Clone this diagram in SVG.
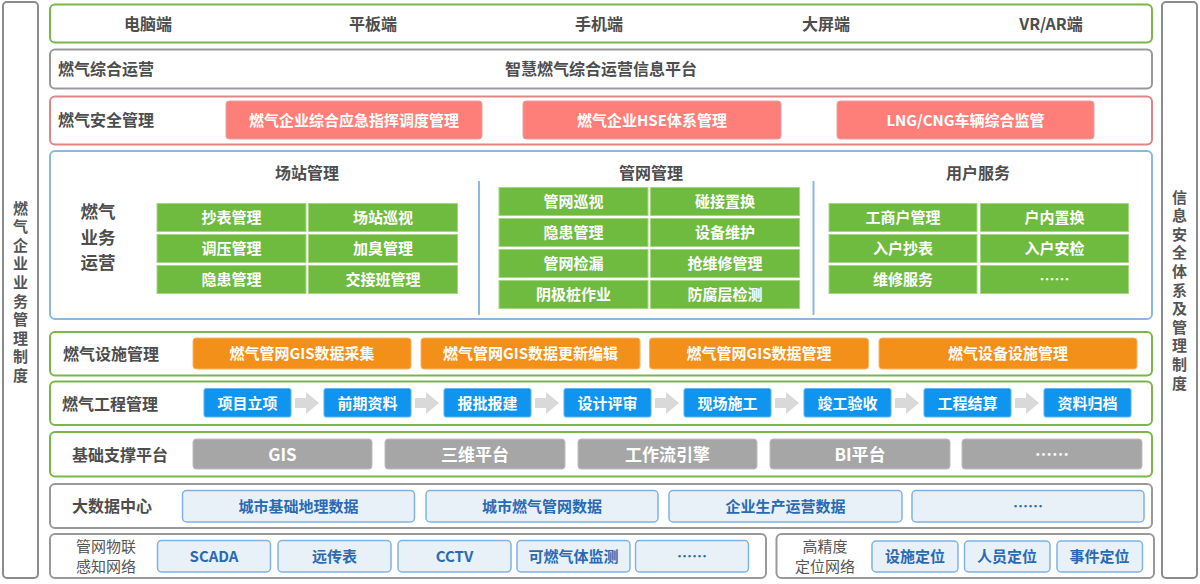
<svg xmlns="http://www.w3.org/2000/svg" width="1200" height="584" viewBox="0 0 1200 584">
<defs>
<style>
text{font-family:"Noto Sans CJK SC","Liberation Sans",sans-serif;font-weight:bold;}
.lbl{font-size:16px;fill:#4d4d4d;}
.ttl{font-size:16px;fill:#4d4d4d;text-anchor:middle;}
.vt{font-size:15px;fill:#555;writing-mode:vertical-rl;text-orientation:upright;letter-spacing:3.6px;}
.bt{font-size:15px;fill:#fff;text-anchor:middle;}
.bt2{font-size:15px;fill:#2a6ab3;text-anchor:middle;}
.sm{font-size:15px;fill:#555;text-anchor:middle;font-weight:normal;}
.fr-g{fill:#fff;stroke:#7ab648;stroke-width:2;}
.fr-k{fill:#fff;stroke:#999;stroke-width:2;}
.fr-r{fill:#fff;stroke:#e08585;stroke-width:2;}
.fr-b{fill:#fff;stroke:#8ab7e3;stroke-width:2;}
.side{fill:#fff;stroke:#8c8c8c;stroke-width:2;}
.red{fill:#fe7f79;stroke:#e8a0a0;stroke-width:1;}
.grn{fill:#6fbb40;stroke:#a5d585;stroke-width:1;}
.org{fill:#f39019;stroke:#f8b56a;stroke-width:1;}
.blu{fill:#0f95ef;stroke:#5cb5f2;stroke-width:1;}
.gry{fill:#a6a6a6;stroke:#bdbdbd;stroke-width:1;}
.lb{fill:#e8f0f8;stroke:#7fb3e6;stroke-width:1.5;}
.arr{fill:#d9d9d9;}
.div{stroke:#8ab7e3;stroke-width:2;}
</style>
</defs>

<g id="side-left">
<rect class="side" x="3" y="2" width="35" height="576" rx="4"/>
<text class="vt" x="20.5" y="200.5">燃气企业业务管理制度</text>
</g>

<g id="side-right">
<rect class="side" x="1162" y="2" width="35" height="576" rx="4"/>
<text class="vt" x="1179.5" y="189.5">信息安全体系及管理制度</text>
</g>

<g id="row-terminals">
<rect class="fr-g" x="50" y="4.5" width="1102" height="38" rx="5"/>
<text class="ttl" x="148" y="30">电脑端</text>
<text class="ttl" x="373" y="30">平板端</text>
<text class="ttl" x="599" y="30">手机端</text>
<text class="ttl" x="826" y="30">大屏端</text>
<text class="ttl" x="1051" y="30">VR/AR端</text>
</g>

<g id="row-ops">
<rect class="fr-k" x="50" y="49.5" width="1102" height="39" rx="5"/>
<text class="lbl" x="58" y="75">燃气综合运营</text>
<text class="ttl" x="601" y="75">智慧燃气综合运营信息平台</text>
</g>

<g id="row-safety">
<rect class="fr-r" x="50" y="96.5" width="1102" height="48" rx="5"/>
<text class="lbl" x="58" y="126">燃气安全管理</text>
<rect class="red" x="226" y="101" width="256" height="38" rx="3"/>
<text class="bt" x="354" y="126">燃气企业综合应急指挥调度管理</text>
<rect class="red" x="523" y="101" width="258" height="38" rx="3"/>
<text class="bt" x="652" y="126">燃气企业HSE体系管理</text>
<rect class="red" x="837" y="101" width="257" height="38" rx="3"/>
<text class="bt" x="965.5" y="126">LNG/CNG车辆综合监管</text>
</g>

<g id="row-business">
<rect class="fr-b" x="50" y="151" width="1102" height="168" rx="5"/>
<text style="font-size:17.5px;fill:#4d4d4d;text-anchor:middle"><tspan x="98" y="218">燃气</tspan><tspan x="98" y="243.5">业务</tspan><tspan x="98" y="269">运营</tspan></text>
<line class="div" x1="479" y1="181" x2="479" y2="315"/>
<line class="div" x1="813.5" y1="181" x2="813.5" y2="315"/>
<text class="ttl" x="307" y="179">场站管理</text>
<text class="ttl" x="651" y="179">管网管理</text>
<text class="ttl" x="978" y="179">用户服务</text>
</g>

<g id="station">
<rect class="grn" x="157" y="203.5" width="149" height="28"/><text class="bt" x="231.5" y="223">抄表管理</text>
<rect class="grn" x="308.5" y="203.5" width="149" height="28"/><text class="bt" x="383" y="223">场站巡视</text>
<rect class="grn" x="157" y="234.5" width="149" height="28"/><text class="bt" x="231.5" y="254">调压管理</text>
<rect class="grn" x="308.5" y="234.5" width="149" height="28"/><text class="bt" x="383" y="254">加臭管理</text>
<rect class="grn" x="157" y="265.5" width="149" height="28"/><text class="bt" x="231.5" y="285">隐患管理</text>
<rect class="grn" x="308.5" y="265.5" width="149" height="28"/><text class="bt" x="383" y="285">交接班管理</text>
</g>

<g id="pipeline">
<rect class="grn" x="499" y="187.5" width="149" height="28"/><text class="bt" x="573.5" y="207">管网巡视</text>
<rect class="grn" x="650.5" y="187.5" width="149" height="28"/><text class="bt" x="725" y="207">碰接置换</text>
<rect class="grn" x="499" y="218.5" width="149" height="28"/><text class="bt" x="573.5" y="238">隐患管理</text>
<rect class="grn" x="650.5" y="218.5" width="149" height="28"/><text class="bt" x="725" y="238">设备维护</text>
<rect class="grn" x="499" y="249.5" width="149" height="28"/><text class="bt" x="573.5" y="269">管网检漏</text>
<rect class="grn" x="650.5" y="249.5" width="149" height="28"/><text class="bt" x="725" y="269">抢维修管理</text>
<rect class="grn" x="499" y="280.5" width="149" height="28"/><text class="bt" x="573.5" y="300">阴极桩作业</text>
<rect class="grn" x="650.5" y="280.5" width="149" height="28"/><text class="bt" x="725" y="300">防腐层检测</text>
</g>

<g id="users">
<rect class="grn" x="829" y="203.5" width="148" height="28"/><text class="bt" x="903" y="223">工商户管理</text>
<rect class="grn" x="980.5" y="203.5" width="148" height="28"/><text class="bt" x="1054.5" y="223">户内置换</text>
<rect class="grn" x="829" y="234.5" width="148" height="28"/><text class="bt" x="903" y="254">入户抄表</text>
<rect class="grn" x="980.5" y="234.5" width="148" height="28"/><text class="bt" x="1054.5" y="254">入户安检</text>
<rect class="grn" x="829" y="265.5" width="148" height="28"/><text class="bt" x="903" y="285">维修服务</text>
<rect class="grn" x="980.5" y="265.5" width="148" height="28"/><text class="bt" x="1054.5" y="285">……</text>
</g>

<g id="row-facility">
<rect class="fr-g" x="50" y="332" width="1102" height="43.5" rx="5"/>
<text class="lbl" x="63" y="360">燃气设施管理</text>
<rect class="org" x="193" y="338" width="218" height="31" rx="3"/><text class="bt" x="302" y="359">燃气管网GIS数据采集</text>
<rect class="org" x="421" y="338" width="219" height="31" rx="3"/><text class="bt" x="530.5" y="359">燃气管网GIS数据更新编辑</text>
<rect class="org" x="649.5" y="338" width="219" height="31" rx="3"/><text class="bt" x="759" y="359">燃气管网GIS数据管理</text>
<rect class="org" x="879" y="338" width="258" height="31" rx="3"/><text class="bt" x="1008" y="359">燃气设备设施管理</text>
</g>

<g id="row-engineering">
<rect class="fr-g" x="50" y="381.5" width="1102" height="43.5" rx="5"/>
<text class="lbl" x="62" y="410">燃气工程管理</text>
<rect class="blu" x="204" y="388.5" width="87" height="28.5" rx="2"/><text class="bt" x="247.5" y="409">项目立项</text>
<rect class="blu" x="324" y="388.5" width="87" height="28.5" rx="2"/><text class="bt" x="367.5" y="409">前期资料</text>
<rect class="blu" x="444" y="388.5" width="87" height="28.5" rx="2"/><text class="bt" x="487.5" y="409">报批报建</text>
<rect class="blu" x="564" y="388.5" width="87" height="28.5" rx="2"/><text class="bt" x="607.5" y="409">设计评审</text>
<rect class="blu" x="684" y="388.5" width="87" height="28.5" rx="2"/><text class="bt" x="727.5" y="409">现场施工</text>
<rect class="blu" x="804" y="388.5" width="87" height="28.5" rx="2"/><text class="bt" x="847.5" y="409">竣工验收</text>
<rect class="blu" x="924" y="388.5" width="87" height="28.5" rx="2"/><text class="bt" x="967.5" y="409">工程结算</text>
<rect class="blu" x="1044" y="388.5" width="87" height="28.5" rx="2"/><text class="bt" x="1087.5" y="409">资料归档</text>
</g>

<g id="connectors">
<path class="arr" d="M295 398h11v-6l13 11l-13 11v-6h-11z"/>
<path class="arr" d="M415 398h11v-6l13 11l-13 11v-6h-11z"/>
<path class="arr" d="M535 398h11v-6l13 11l-13 11v-6h-11z"/>
<path class="arr" d="M655 398h11v-6l13 11l-13 11v-6h-11z"/>
<path class="arr" d="M775 398h11v-6l13 11l-13 11v-6h-11z"/>
<path class="arr" d="M895 398h11v-6l13 11l-13 11v-6h-11z"/>
<path class="arr" d="M1015 398h11v-6l13 11l-13 11v-6h-11z"/>
</g>

<g id="row-platform">
<rect class="fr-g" x="50" y="432" width="1102" height="44.5" rx="5"/>
<text class="lbl" x="72" y="461">基础支撑平台</text>
<rect class="gry" x="193" y="439" width="179" height="30" rx="3"/><text class="bt" x="282.5" y="461" style="font-size:17px">GIS</text>
<rect class="gry" x="385" y="439" width="180" height="30" rx="3"/><text class="bt" x="475" y="461" style="font-size:17px">三维平台</text>
<rect class="gry" x="578" y="439" width="179" height="30" rx="3"/><text class="bt" x="667.5" y="461" style="font-size:17px">工作流引擎</text>
<rect class="gry" x="770" y="439" width="180" height="30" rx="3"/><text class="bt" x="860" y="461" style="font-size:17px">BI平台</text>
<rect class="gry" x="962" y="439" width="180" height="30" rx="3"/><text class="bt" x="1052" y="461" style="font-size:17px">……</text>
</g>

<g id="row-bigdata">
<rect class="fr-k" x="50" y="484" width="1102" height="44" rx="5"/>
<text class="lbl" x="72" y="512">大数据中心</text>
<rect class="lb" x="182.5" y="490.5" width="232" height="31.5" rx="4"/><text class="bt2" x="298.5" y="512">城市基础地理数据</text>
<rect class="lb" x="426" y="490.5" width="232" height="31.5" rx="4"/><text class="bt2" x="542" y="512">城市燃气管网数据</text>
<rect class="lb" x="669" y="490.5" width="233" height="31.5" rx="4"/><text class="bt2" x="785.5" y="512">企业生产运营数据</text>
<rect class="lb" x="912" y="490.5" width="232" height="31.5" rx="4"/><text class="bt2" x="1028" y="512">……</text>
</g>

<g id="row-iot">
<rect class="fr-k" x="50" y="534" width="716" height="44" rx="5"/>
<text class="sm"><tspan x="106" y="552">管网物联</tspan><tspan x="106" y="572">感知网络</tspan></text>
<rect class="lb" x="157.5" y="540.5" width="113" height="31.5" rx="4"/><text class="bt2" x="214" y="562">SCADA</text>
<rect class="lb" x="278" y="540.5" width="113" height="31.5" rx="4"/><text class="bt2" x="334.5" y="562">远传表</text>
<rect class="lb" x="398" y="540.5" width="113" height="31.5" rx="4"/><text class="bt2" x="454.5" y="562">CCTV</text>
<rect class="lb" x="517" y="540.5" width="113" height="31.5" rx="4"/><text class="bt2" x="573.5" y="562">可燃气体监测</text>
<rect class="lb" x="635.5" y="540.5" width="113" height="31.5" rx="4"/><text class="bt2" x="692" y="562">……</text>
</g>

<g id="row-positioning">
<rect class="fr-k" x="776.5" y="534" width="377.5" height="44" rx="5"/>
<text class="sm"><tspan x="825" y="552">高精度</tspan><tspan x="825" y="572">定位网络</tspan></text>
<rect class="lb" x="872" y="541" width="86" height="31" rx="4"/><text class="bt2" x="915" y="562">设施定位</text>
<rect class="lb" x="964.5" y="541" width="85.5" height="31" rx="4"/><text class="bt2" x="1007" y="562">人员定位</text>
<rect class="lb" x="1057" y="541" width="85.5" height="31" rx="4"/><text class="bt2" x="1099.5" y="562">事件定位</text>
</g>
</svg>
